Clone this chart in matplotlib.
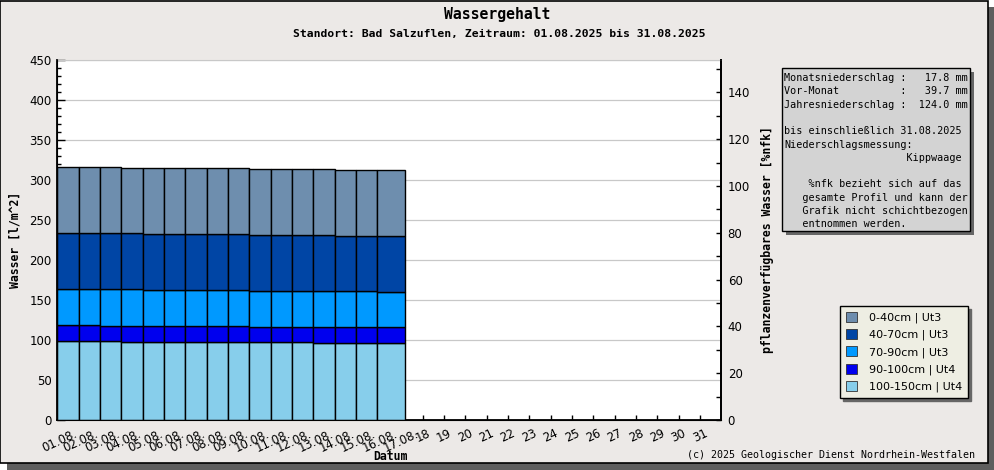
import numpy as np
import matplotlib
matplotlib.use('Agg')
import matplotlib.pyplot as plt
from matplotlib.patches import Rectangle, Patch
from matplotlib.ticker import MultipleLocator

# Tage im August 2025
tage = np.arange(1, 32)
tag_labels = [f'{d:02d}.08.' if d <= 17 else f'{d:02d}' for d in tage]
mess_tage = np.arange(1, 17)

# Wassergehalt je Schicht [l/m^2], von unten nach oben
w_100_150 = [98.3, 98.3, 98.3, 97.1, 97.1, 97.1, 97.1, 97.1, 97.1, 97.1, 97.1, 97.1, 95.8, 95.8, 95.8, 95.8]
w_90_100 = [20.4, 20.4, 19.2, 20.4, 20.4, 20.4, 20.4, 20.4, 20.4, 19.2, 19.2, 19.2, 20.4, 20.4, 20.4, 20.4]
w_70_90 = [44.6, 44.6, 45.8, 45.8, 44.6, 44.6, 44.6, 44.6, 44.6, 44.6, 44.6, 44.6, 44.6, 44.6, 44.6, 43.3]
w_40_70 = [70.0, 70.0, 70.0, 70.0, 70.0, 70.0, 70.0, 70.0, 70.0, 70.0, 70.0, 70.0, 70.0, 68.8, 68.8, 70.0]
w_0_40 = [83.4, 83.4, 83.4, 82.1, 83.3, 83.3, 83.3, 83.3, 83.3, 83.4, 83.4, 83.4, 83.4, 83.3, 83.3, 83.3]

schichten = ['100-150cm | Ut4', '90-100cm | Ut4', '70-90cm | Ut3', '40-70cm | Ut3', '0-40cm | Ut3']
farben = ['#87CEEB', '#0000EE', '#0099FF', '#0045A5', '#6E8EAE']
werte = [w_100_150, w_90_100, w_70_90, w_40_70, w_0_40]

info_zeilen = [
    'Monatsniederschlag :   17.8 mm',
    'Vor-Monat          :   39.7 mm',
    'Jahresniederschlag :  124.0 mm',
    '',
    'bis einschließlich 31.08.2025',
    'Niederschlagsmessung:',
    '                    Kippwaage',
    '',
    '    %nfk bezieht sich auf das',
    '   gesamte Profil und kann der',
    '   Grafik nicht schichtbezogen',
    '   entnommen werden.',
]

W, H = 995, 470
bg = '#ECE9E7'
mono = 'DejaVu Sans Mono'

fig = plt.figure(figsize=(W / 100, H / 100), dpi=100, facecolor='white')

def px(x, y):
    # Pixel (von oben links) -> Figure-Koordinaten
    return x / W, 1 - y / H

# Rahmen mit Schatten
fig.patches.append(Rectangle((7 / W, 0), 1 - 7 / W, 1 - 7 / H, transform=fig.transFigure,
                             facecolor='#5E5E5E', edgecolor='none', zorder=-3))
fig.patches.append(Rectangle((0, 7 / H), 988 / W, 1 - 7 / H - 0.5 / H, transform=fig.transFigure,
                             facecolor=bg, edgecolor='black', linewidth=1.2, zorder=-2))

l, r, t, b = 57.3, 720.7, 60, 420
ax = fig.add_axes([l / W, 1 - b / H, (r - l) / W, (b - t) / H])
ax.set_facecolor('white')

# Balken: linke Kante etwas vor dem Tag, letzter Balken breiter
links = mess_tage - 0.112
breiten = np.ones(len(mess_tage))
breiten[-1] = 1.293
unten = np.zeros(len(mess_tage))
for w, c in zip(werte, farben):
    ax.bar(links, w, width=breiten, bottom=unten, align='edge', color=c,
           edgecolor='black', linewidth=1.0, zorder=3)
    unten += np.array(w)

ax.set_xlim(0.889, 31.97)
ax.set_ylim(0, 450)
ax.set_xticks(tage)
ax.set_xticklabels(tag_labels, rotation=25, ha='center', va='top', fontsize=8.5)
ax.yaxis.set_major_locator(MultipleLocator(50))
ax.yaxis.set_minor_locator(MultipleLocator(10))
ax.tick_params(axis='y', which='major', direction='in', length=6, width=1, labelsize=8.5, pad=4)
ax.tick_params(axis='y', which='minor', direction='in', length=3, width=1)
ax.tick_params(axis='x', which='major', direction='in', length=3.6, width=1, pad=5)
ax.grid(axis='y', color='#C8C8C8', linewidth=0.9, zorder=0)
ax.set_axisbelow(True)
ax.spines['top'].set_color('#C8C8C8')
ax.spines['left'].set_linewidth(1.3)
ax.spines['bottom'].set_linewidth(1.3)
ax.spines['right'].set_linewidth(1.3)

ax2 = ax.twinx()
ax2.set_ylim(0, 153.8)
ax2.yaxis.set_major_locator(MultipleLocator(20))
ax2.yaxis.set_minor_locator(MultipleLocator(10))
ax2.tick_params(axis='y', which='both', direction='in', length=3.6, width=1, labelsize=8.5, pad=5)
ax2.spines['top'].set_visible(False)
ax2.spines['right'].set_linewidth(1.3)

# Texte
fig.text(*px(497, 14), 'Wassergehalt', family=mono, weight='bold', fontsize=10.6, ha='center', va='center')
fig.text(*px(499, 34), 'Standort: Bad Salzuflen, Zeitraum: 01.08.2025 bis 31.08.2025',
         family=mono, weight='bold', fontsize=8.2, ha='center', va='center')
fig.text(*px(15, 240), 'Wasser [l/m^2]', family=mono, weight='bold', fontsize=8.3,
         rotation=90, ha='center', va='center')
fig.text(*px(767, 240), 'pflanzenverfügbares Wasser [%nfk]', family=mono, weight='bold', fontsize=8.3,
         rotation=90, ha='center', va='center')
fig.text(*px(390, 457), 'Datum', family=mono, weight='bold', fontsize=8.3, ha='center', va='center')
fig.text(*px(975, 455), '(c) 2025 Geologischer Dienst Nordrhein-Westfalen', family=mono,
         fontsize=7.2, ha='right', va='center')

# Infobox
bx0, by0, bx1, by1 = 782, 68, 970, 231
fig.patches.append(Rectangle(px(bx0 + 4, by1 + 4), (bx1 - bx0) / W, (by1 - by0) / H,
                             transform=fig.transFigure, facecolor='#666666', edgecolor='none', zorder=1))
fig.patches.append(Rectangle(px(bx0, by1), (bx1 - bx0) / W, (by1 - by0) / H,
                             transform=fig.transFigure, facecolor='#D3D3D3', edgecolor='black',
                             linewidth=1, zorder=2))
for i, zeile in enumerate(info_zeilen):
    fig.text(*px(784, 78 + 13.3 * i), zeile, family=mono, fontsize=7.3, ha='left', va='center', zorder=3)

# Legende
handles = [Patch(facecolor=c, edgecolor='#333333', linewidth=0.6) for c in farben[::-1]]
leg = fig.legend(handles, schichten[::-1], loc='upper right', bbox_to_anchor=px(968, 306),
                 fontsize=8, frameon=True, fancybox=False, framealpha=1, facecolor='#EEEEE3',
                 edgecolor='black', shadow={'color': '#666666', 'alpha': 1},
                 handlelength=1.0, handleheight=1.0, handletextpad=1.1, labelspacing=0.55,
                 borderpad=0.5, borderaxespad=0)
leg.get_frame().set_linewidth(1)

fig.savefig('out.png', dpi=100, facecolor=fig.get_facecolor())
